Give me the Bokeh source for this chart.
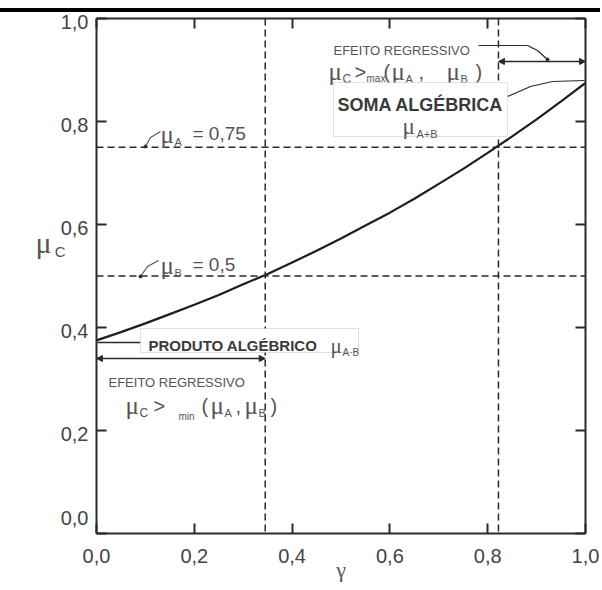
from bokeh.plotting import figure
from bokeh.models import (Range1d, FixedTicker, LinearAxis, CustomJSTickFormatter,
                          Label, BoxAnnotation, Arrow, NormalHead, Span)
from bokeh.embed import file_html
from bokeh.resources import INLINE

# ---- data ----
gamma = [0.00, 0.05, 0.10, 0.15, 0.20, 0.25, 0.30, 0.35, 0.40, 0.45, 0.50,
         0.55, 0.60, 0.65, 0.70, 0.75, 0.80, 0.85, 0.90, 0.95, 1.00]
mu_c = [0.375, 0.391, 0.408, 0.426, 0.444, 0.463, 0.484, 0.504, 0.526, 0.549, 0.573,
        0.598, 0.623, 0.650, 0.679, 0.708, 0.739, 0.771, 0.804, 0.839, 0.875]
mu_a = 0.75
mu_b = 0.5
gamma_at_mu_b = 0.345
gamma_at_mu_a = 0.822
ticks = [0.0, 0.2, 0.4, 0.6, 0.8, 1.0]

INK = "#2a2a2a"
TXT = "#3a3a3a"
LIGHT = "#555555"
SANS = "Liberation Sans"
SERIF = "Liberation Serif"

W, H = 600, 590
FL, FR, FT, FB = 96, 585, 18, 533   # frame edges

p = figure(width=W, height=H, output_backend="svg", toolbar_location=None,
           x_range=Range1d(0, 1), y_range=Range1d(0, 1),
           min_border_left=FL, min_border_right=W - FR, min_border_top=FT,
           min_border_bottom=H - FB,
           x_axis_location=None, y_axis_location=None)
p.xgrid.visible = False
p.ygrid.visible = False
p.outline_line_color = None
p.background_fill_color = "white"
# transparent border so the page strip (black scan bar) shows through
p.border_fill_alpha = 0
p.styles = {"background": "linear-gradient(to bottom, #ffffff 0px, #ffffff 8px, "
                          "#000000 8px, #000000 12px, #ffffff 12px, #ffffff 100%)"}

fmt = CustomJSTickFormatter(code="return tick.toFixed(1).replace('.', ',');")
blank = CustomJSTickFormatter(code="return '';")

def make_axis(labels, tick_list=ticks, formatter=None):
    ax = LinearAxis(ticker=FixedTicker(ticks=tick_list),
                    formatter=formatter or (fmt if labels else blank))
    ax.axis_line_width = 2
    ax.axis_line_color = INK
    ax.major_tick_line_width = 2
    ax.major_tick_line_color = INK
    ax.major_tick_in = 10
    ax.major_tick_out = 0
    ax.minor_tick_line_color = None
    ax.major_label_text_font = SANS
    ax.major_label_text_color = "#444444"
    ax.major_label_text_font_size = "20px"
    ax.major_label_standoff = 9 if labels else 0
    return ax

def dy(py):   # page pixel row -> data value
    return (FB - py) / float(FB - FT)

def dx(px):   # page pixel column -> data value
    return (px - FL) / float(FR - FL)

xaxis = make_axis(True)
xaxis.major_label_standoff = 15
xaxis.axis_label = "\u03b3"
xaxis.axis_label_text_font = SERIF
xaxis.axis_label_text_font_style = "normal"
xaxis.axis_label_text_font_size = "22px"
xaxis.axis_label_text_color = LIGHT
xaxis.axis_label_standoff = -9
p.add_layout(xaxis, "below")

# left: ticks/line on the tick values; the scanned labels sit ~3 px below
# their ticks, and "0,0" is lifted above the corner
p.add_layout(make_axis(False), "left")
lab_shift = 3.0 / (FB - FT)
label_pos = [dy(517)] + [t - lab_shift for t in ticks[1:]]
round_fmt = CustomJSTickFormatter(
    code="return (Math.round(tick * 5) / 5).toFixed(1).replace('.', ',');")
ylab = make_axis(True, tick_list=label_pos, formatter=round_fmt)
ylab.axis_line_color = None
ylab.major_tick_line_color = None
ylab.major_tick_in = 0
ylab.major_label_standoff = 8
p.add_layout(ylab, "left")

p.add_layout(make_axis(False), "above")
p.add_layout(make_axis(False), "right")

# y-axis title "mu_C": two label-only axes stacked outside the numeric axis
def title_axis(text, value, size, font, standoff):
    ax = LinearAxis(ticker=FixedTicker(ticks=[value]),
                    formatter=CustomJSTickFormatter(code="return '%s';" % text))
    ax.axis_line_color = None
    ax.major_tick_line_color = None
    ax.minor_tick_line_color = None
    ax.major_tick_out = 0
    ax.major_tick_in = 0
    ax.major_label_standoff = standoff
    ax.major_label_text_font = font
    ax.major_label_text_font_size = f"{size}px"
    ax.major_label_text_color = LIGHT
    return ax

p.add_layout(title_axis("C", dy(251), 15, SANS, -8), "left")
p.add_layout(title_axis("\\u03bc", dy(242), 30, SERIF, 0), "left")

# reference dashed lines
for v in (mu_a, mu_b):
    p.add_layout(Span(location=v, dimension="width", line_color=INK,
                      line_dash="7 4", line_width=1.5))
for v in (gamma_at_mu_b, gamma_at_mu_a):
    p.add_layout(Span(location=v, dimension="height", line_color=INK,
                      line_dash="7 4", line_width=1.5))

# the curve
p.line(gamma, mu_c, line_color="#1e1e1e", line_width=2.2)

def lab(px, py, text, size, font=SANS, color=TXT, style="normal", align="left"):
    p.add_layout(Label(x=dx(px), y=dy(py), text=text, text_font=font,
                       text_font_size=f"{size}px", text_color=color,
                       text_font_style=style, text_align=align,
                       text_baseline="alphabetic"))

def mu(px, py, sub, size=24, subsize=11, color=LIGHT, subdx=None):
    lab(px, py, "\u03bc", size, font=SERIF, color=color)
    sx = px + (subdx if subdx is not None else size * 0.55)
    lab(sx, py + 7, sub, subsize, color=color)

# mu_A = 0,75 and mu_B = 0,5
mu(160, 134, "A", size=25, subsize=11, subdx=14)
lab(192, 133, "= 0,75", 19, color=LIGHT)
mu(160, 265, "B", size=25, subsize=11, subdx=14)
lab(192, 264, "= 0,5", 19, color=LIGHT)
ptr_a_x = [dx(145), dx(150), dx(160)]
ptr_a_y = [dy(146), dy(137), dy(131)]
p.line(ptr_a_x, ptr_a_y, line_color=LIGHT, line_width=1.2)
p.scatter([dx(145)], [dy(146)], size=3, color=INK)
ptr_b_x = [dx(140), dx(147), dx(158)]
ptr_b_y = [dy(276), dy(266), dy(260)]
p.line(ptr_b_x, ptr_b_y, line_color=LIGHT, line_width=1.2)
p.scatter([dx(140)], [dy(276)], size=3, color=INK)

# PRODUTO ALGEBRICO box
p.add_layout(BoxAnnotation(left=dx(140), right=dx(358), top=dy(328), bottom=dy(352),
                           fill_color="white", fill_alpha=1,
                           line_color="#9a9a9a", line_width=1))
lab(148, 345, "PRODUTO ALGÉBRICO", 15, color=TXT, style="bold")
mu(330, 345, "A·B", size=21, subsize=10, subdx=12)
p.line([dx(97), dx(140)], [dy(342), dy(342)], line_color=INK, line_width=1.5)

# lower regressive effect
p.add_layout(Arrow(x_start=0.0, y_start=dy(358), x_end=gamma_at_mu_b, y_end=dy(358),
                   line_color=INK, line_width=1.5,
                   start=NormalHead(size=6, fill_color=INK, line_color=INK),
                   end=NormalHead(size=6, fill_color=INK, line_color=INK)))
lab(108, 382, "EFEITO REGRESSIVO", 13, color=LIGHT)
mu(125, 405, "C", size=25, subsize=12, subdx=14)
lab(153, 405, ">", 20, color=LIGHT)
lab(178, 416, "min", 10, color=LIGHT)
lab(201, 405, "(", 20, color=LIGHT)
mu(210, 405, "A", size=25, subsize=11, subdx=14)
lab(235, 405, ",", 20, color=LIGHT)
mu(244, 405, "B", size=25, subsize=11, subdx=14)
lab(270, 405, ")", 20, color=LIGHT)

# upper regressive effect
lab(333, 50, "EFEITO REGRESSIVO", 13, color=LIGHT)
p.line([dx(478), dx(527), dx(537), dx(547)], [dy(45), dy(45), dy(50), dy(59)],
       line_color=INK, line_width=1.2)
p.scatter([dx(547)], [dy(59)], size=3, color=INK)
p.add_layout(Arrow(x_start=gamma_at_mu_a, y_start=dy(61), x_end=1.0, y_end=dy(61),
                   line_color=INK, line_width=1.5,
                   start=NormalHead(size=6, fill_color=INK, line_color=INK),
                   end=NormalHead(size=6, fill_color=INK, line_color=INK)))
mu(328, 71, "C", size=25, subsize=12, subdx=14)
lab(354, 71, ">", 20, color=LIGHT)
lab(366, 78, "max", 10, color=LIGHT)
lab(383, 71, "(", 20, color=LIGHT)
mu(391, 71, "A", size=25, subsize=11, subdx=14)
lab(418, 71, ",", 20, color=LIGHT)
mu(446, 71, "B", size=25, subsize=11, subdx=14)
lab(475, 71, ")", 20, color=LIGHT)

# SOMA ALGEBRICA box
p.add_layout(BoxAnnotation(left=dx(333), right=dx(507), top=dy(82), bottom=dy(136),
                           fill_color="white", fill_alpha=1,
                           line_color="#9a9a9a", line_width=1))
lab(420, 104, "SOMA ALGÉBRICA", 18, color=TXT, style="bold", align="center")
mu(402, 126, "A+B", size=23, subsize=11, subdx=14)
p.line([dx(507), dx(530), dx(552), dx(584)], [dy(96), dy(86), dy(81), dy(80)],
       line_color=INK, line_width=1.2)

open("out.html", "w").write(file_html(p, INLINE))
